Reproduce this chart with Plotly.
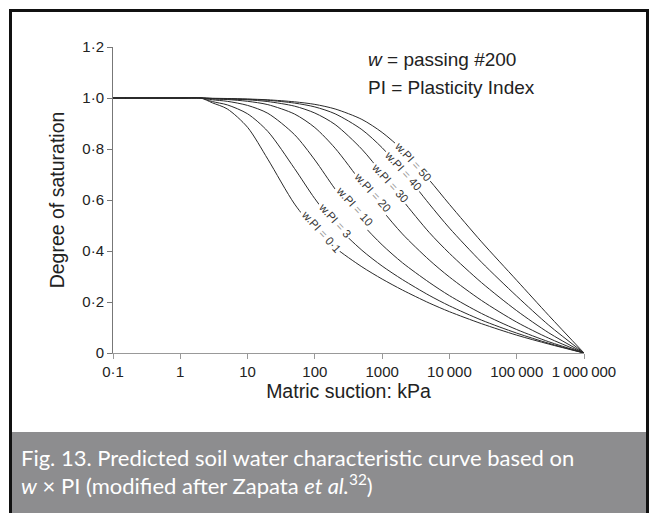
import math
import plotly.graph_objects as go

# ---- data ----
suction = [0.1, 1, 2, 3, 5, 10, 20, 50, 100, 200, 500, 1000, 2000, 5000,
           10000, 30000, 100000, 300000, 1000000]

s_wpi_0_1 = [1, 1, 1, 0.981, 0.957, 0.885, 0.760, 0.584, 0.486, 0.413, 0.338,
             0.290, 0.247, 0.196, 0.162, 0.115, 0.070, 0.035, 0]
s_wpi_3 = [1, 1, 1, 0.986, 0.973, 0.938, 0.869, 0.723, 0.605, 0.504, 0.403,
           0.341, 0.288, 0.226, 0.185, 0.129, 0.078, 0.038, 0]
s_wpi_10 = [1, 1, 1, 0.993, 0.987, 0.971, 0.940, 0.856, 0.757, 0.643, 0.507,
            0.424, 0.354, 0.277, 0.225, 0.155, 0.092, 0.044, 0]
s_wpi_20 = [1, 1, 1, 0.996, 0.994, 0.987, 0.974, 0.937, 0.884, 0.803, 0.666,
            0.560, 0.467, 0.365, 0.298, 0.206, 0.121, 0.058, 0]
s_wpi_30 = [1, 1, 1, 0.998, 0.996, 0.993, 0.986, 0.968, 0.941, 0.896, 0.799,
            0.703, 0.600, 0.473, 0.391, 0.276, 0.166, 0.079, 0]
s_wpi_40 = [1, 1, 1, 0.998, 0.997, 0.995, 0.991, 0.980, 0.965, 0.938, 0.876,
            0.805, 0.716, 0.585, 0.490, 0.356, 0.223, 0.109, 0]
s_wpi_50 = [1, 1, 1, 0.999, 0.998, 0.996, 0.993, 0.985, 0.975, 0.957, 0.916,
            0.865, 0.796, 0.679, 0.583, 0.436, 0.285, 0.147, 0]

series_names = ["0·1", "3", "10", "20", "30", "40", "50"]
series_values = [s_wpi_0_1, s_wpi_3, s_wpi_10, s_wpi_20, s_wpi_30, s_wpi_40, s_wpi_50]

# curve label positions (suction, saturation)
label_x = [122, 197, 384, 710, 1324, 2084, 2938]
label_y = [0.478, 0.522, 0.575, 0.630, 0.668, 0.715, 0.751]

x_tickvals = [0.1, 1, 10, 100, 1000, 10000, 100000, 1000000]
x_ticktext = ["0·1", "1", "10", "100", "1000", "10\u2009000", "100\u2009000", "1\u2009000\u2009000"]
y_tickvals = [0, 0.2, 0.4, 0.6, 0.8, 1.0, 1.2]
y_ticktext = ["0", "0·2", "0·4", "0·6", "0·8", "1·0", "1·2"]

# ---- figure ----
W, H = 659, 513
ML, MR, MT, MB = 113, 75, 47, 160
pw, ph = W - ML - MR, H - MT - MB


def px(xp):
    return (xp - ML) / pw


def py(yp):
    return (H - MB - yp) / ph


fig = go.Figure()
for name, vals in zip(series_names, series_values):
    fig.add_trace(go.Scatter(
        x=suction, y=vals, mode="lines", name="w.PI = " + name,
        line=dict(color="#2a2a2a", width=1, shape="spline", smoothing=0.8),
        hoverinfo="skip", showlegend=False))

font_main = "Liberation Sans, Arial, sans-serif"
for name, lx, ly in zip(series_names, label_x, label_y):
    fig.add_annotation(
        x=math.log10(lx), y=ly, xref="x", yref="y",
        text="w.PI <span style='color:#9a9a9a'>=</span> " + name,
        showarrow=False, textangle=48, bgcolor="white", borderpad=1,
        font=dict(family=font_main, size=11.5, color="#333"),
        xanchor="center", yanchor="middle")

fig.add_annotation(x=px(366), y=py(60), xref="paper", yref="paper",
                   text="<i>w</i> = passing #200", showarrow=False,
                   xanchor="left", yanchor="middle",
                   font=dict(family=font_main, size=19, color="#222"))
fig.add_annotation(x=px(366), y=py(87), xref="paper", yref="paper",
                   text="PI = Plasticity Index", showarrow=False,
                   xanchor="left", yanchor="middle",
                   font=dict(family=font_main, size=19, color="#222"))

# caption band
fig.add_shape(type="rect", xref="paper", yref="paper",
              x0=px(11), x1=px(648), y0=py(520), y1=py(432),
              fillcolor="#8d8d8f", line=dict(width=0), layer="above")
cap_font = dict(family="Lato, Open Sans, sans-serif", size=22, color="white")
fig.add_annotation(x=px(19), y=py(457), xref="paper", yref="paper",
                   text="Fig. 13. Predicted soil water characteristic curve based on",
                   showarrow=False, xanchor="left", yanchor="middle", font=cap_font)
fig.add_annotation(x=px(19), y=py(484), xref="paper", yref="paper",
                   text="<i>w</i> \u00d7 PI (modified after Zapata <i>et al.</i><sup>32</sup>)",
                   showarrow=False, xanchor="left", yanchor="middle", font=cap_font)
# outer frame
fig.add_shape(type="rect", xref="paper", yref="paper",
              x0=px(10.5), x1=px(647.5), y0=py(540), y1=py(10.5),
              line=dict(color="#111", width=3), fillcolor="rgba(0,0,0,0)", layer="above")

fig.update_layout(
    width=W, height=H,
    margin=dict(l=ML, r=MR, t=MT, b=MB, pad=0),
    paper_bgcolor="white", plot_bgcolor="white",
    font=dict(family=font_main, size=15, color="#222"),
    xaxis=dict(type="log", range=[-1, 6], tickvals=x_tickvals, ticktext=x_ticktext,
               ticks="outside", ticklen=5, tickcolor="#999", showline=True,
               linecolor="#999", linewidth=1, showgrid=False, zeroline=False,
               tickfont=dict(size=15, color="#222"),
               title=dict(text="Matric suction: kPa", font=dict(size=19.5, color="#222"), standoff=4)),
    yaxis=dict(range=[0, 1.2], tickvals=y_tickvals, ticktext=y_ticktext,
               ticks="outside", ticklen=5, tickcolor="#777", showline=True,
               linecolor="#777", linewidth=1, showgrid=False, zeroline=False,
               tickfont=dict(size=15, color="#222"),
               title=dict(text="Degree of saturation", font=dict(size=19.5, color="#222"), standoff=12)),
)

fig.write_html("out.html", config={"displayModeBar": False},
               post_script="document.body.style.margin='0';document.body.style.overflow='hidden';")
